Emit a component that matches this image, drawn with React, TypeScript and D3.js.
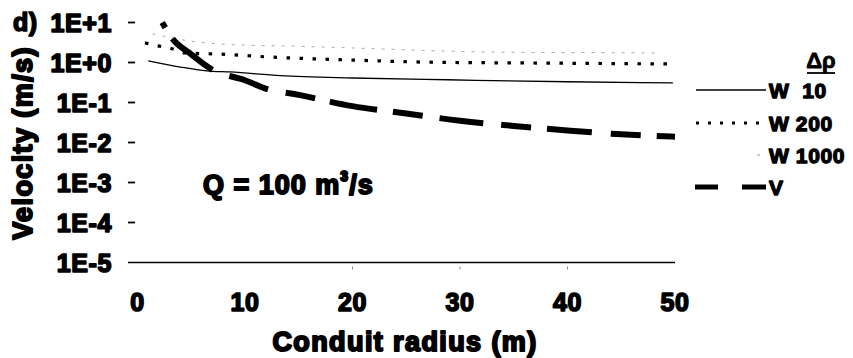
import React from "react";
import * as d3 from "d3";

const W = 853;
const H = 358;

// Data
const radiusW10 = [1.0, 4.0, 6.7, 8.6, 13.3, 20, 28.8, 40, 49.8];
const velW10 = [1.1, 0.77, 0.61, 0.58, 0.47, 0.41, 0.37, 0.33, 0.31];

const radiusW200 = [0.7, 1.9, 3.0, 4.4, 7.5, 12.3, 20, 26.9, 37.2, 49.5];
const velW200 = [3.1, 2.6, 2.3, 1.73, 1.63, 1.37, 1.15, 1.02, 0.97, 0.92];

const radiusW1000 = [1.4, 4.7, 10.2, 13.5, 22.3, 28.1, 35, 44.2, 48.6];
const velW1000 = [5.2, 3.5, 2.7, 2.6, 2.2, 1.94, 1.8, 1.76, 1.73];

const radiusV = [2.3, 3.2, 5, 7, 10, 12, 15, 20, 25, 30, 35, 40, 45, 50];
const velV = [10, 4.1, 1.6, 0.65, 0.36, 0.22, 0.155, 0.081, 0.053, 0.035, 0.026, 0.02, 0.016, 0.014];

const xTicks = [0, 10, 20, 30, 40, 50];
const yTicks = [10, 1, 0.1, 0.01, 0.001, 0.0001, 0.00001];
const yTickLabels = ["1E+1", "1E+0", "1E-1", "1E-2", "1E-3", "1E-4", "1E-5"];

const legendNames = ["W  10", "W 200", "W 1000", "V"];

export default function App() {
  const x = d3.scaleLinear().domain([0, 50]).range([137.5, 675]);
  const y = d3.scaleLog().domain([1e-5, 10]).range([262.5, 22.5]);

  const line = d3
    .line<[number, number]>()
    .x((d) => x(d[0]))
    .y((d) => y(d[1]))
    .curve(d3.curveMonotoneX);

  const zip = (a: number[], b: number[]) => a.map((v, i) => [v, b[i]] as [number, number]);

  const font = "'Liberation Sans', Arial, sans-serif";
  const heavy = (sw: number, ls: number) =>
    ({
      fontFamily: font,
      fontWeight: 700,
      fill: "#000",
      stroke: "#000",
      strokeWidth: sw,
      strokeLinejoin: "round",
      letterSpacing: `${ls}px`,
    }) as React.CSSProperties;

  const legendY = [90, 123, 155, 187];
  const lx0 = 696;
  const lx1 = 766;

  return (
    <svg
      width={W}
      height={H}
      viewBox={`0 0 ${W} ${H}`}
      style={{ position: "absolute", left: 0, top: 0, background: "#fff" }}
    >
      <rect x={0} y={0} width={W} height={H} fill="#fff" />

      {/* x axis line (at 1E-5) */}
      <line x1={128} x2={x(50)} y1={y(1e-5)} y2={y(1e-5)} stroke="#000" strokeWidth={1.5} />
      {[20, 30, 40].map((t) => (
        <line key={t} x1={x(t)} x2={x(t)} y1={y(1e-5) + 4} y2={y(1e-5) + 7} stroke="#888" strokeWidth={1} />
      ))}

      {/* y ticks */}
      {yTicks.map((t, i) => (
        <g key={t}>
          {i < yTicks.length - 1 && (
            <line x1={128} x2={135} y1={y(t)} y2={y(t)} stroke="#000" strokeWidth={1.8} />
          )}
          <text
            x={112}
            y={y(t)}
            textAnchor="end"
            dominantBaseline="central"
            fontSize={25}
            style={heavy(1.6, 0.6)}
          >
            {yTickLabels[i]}
          </text>
        </g>
      ))}

      {/* x tick labels */}
      {xTicks.map((t) => (
        <text
          key={t}
          x={x(t)}
          y={302}
          textAnchor="middle"
          dominantBaseline="central"
          fontSize={25}
          style={heavy(1.6, 0.6)}
        >
          {t}
        </text>
      ))}

      {/* axis titles */}
      <text x={405} y={342} textAnchor="middle" dominantBaseline="central" fontSize={27} style={heavy(2.0, 1.4)}>
        Conduit radius (m)
      </text>
      <text
        transform={`translate(23,143) rotate(-90)`}
        textAnchor="middle"
        dominantBaseline="central"
        fontSize={27}
        style={heavy(2.0, 1.4)}
      >
        Velocity (m/s)
      </text>
      <text x={13} y={22} dominantBaseline="central" fontSize={25} style={heavy(1.6, 0.6)}>
        d)
      </text>

      {/* annotation */}
      <text x={203} y={185} dominantBaseline="central" fontSize={27} style={heavy(1.9, 1.0)}>
        Q = 100 m
        <tspan fontSize={14} dy={-9}>3</tspan>
        <tspan dy={9}>/s</tspan>
      </text>

      {/* series */}
      <path d={line(zip(radiusW1000, velW1000)) || ""} fill="none" stroke="#aaa" strokeWidth={1} strokeDasharray="3 7" />
      <path d={line(zip(radiusW200, velW200)) || ""} fill="none" stroke="#000" strokeWidth={3.2} strokeDasharray="3.5 9.5" />
      <path d={line(zip(radiusW10, velW10)) || ""} fill="none" stroke="#000" strokeWidth={1.3} />
      <path
        d={line(zip(radiusV, velV)) || ""}
        fill="none"
        stroke="#000"
        strokeWidth={6}
        strokeDasharray="6 13 51 18 41 18 30 15 48 16 30 17 44 18 30 16 45 19 30 16 40"
      />

      {/* legend */}
      <text x={821} y={60} textAnchor="middle" dominantBaseline="central" fontSize={22} style={heavy(0.8, 0)}>
        Δρ
      </text>
      <line x1={807} x2={835} y1={73} y2={73} stroke="#000" strokeWidth={1.8} />

      <line x1={lx0} x2={lx1} y1={legendY[0]} y2={legendY[0]} stroke="#000" strokeWidth={1.3} />
      <line x1={lx0} x2={lx1} y1={legendY[1]} y2={legendY[1]} stroke="#000" strokeWidth={3} strokeDasharray="3 9" />
      <line x1={757} x2={760} y1={legendY[2]} y2={legendY[2]} stroke="#999" strokeWidth={1} />
      <line x1={695} x2={766} y1={legendY[3]} y2={legendY[3]} stroke="#000" strokeWidth={5} strokeDasharray="23 24 24" />

      {legendNames.map((n, i) => (
        <text
          key={n}
          x={769}
          y={legendY[i]}
          dominantBaseline="central"
          fontSize={21}
          style={{ ...heavy(1.3, 0.6), whiteSpace: "pre" }}
          xmlSpace="preserve"
        >
          {n}
        </text>
      ))}
    </svg>
  );
}
